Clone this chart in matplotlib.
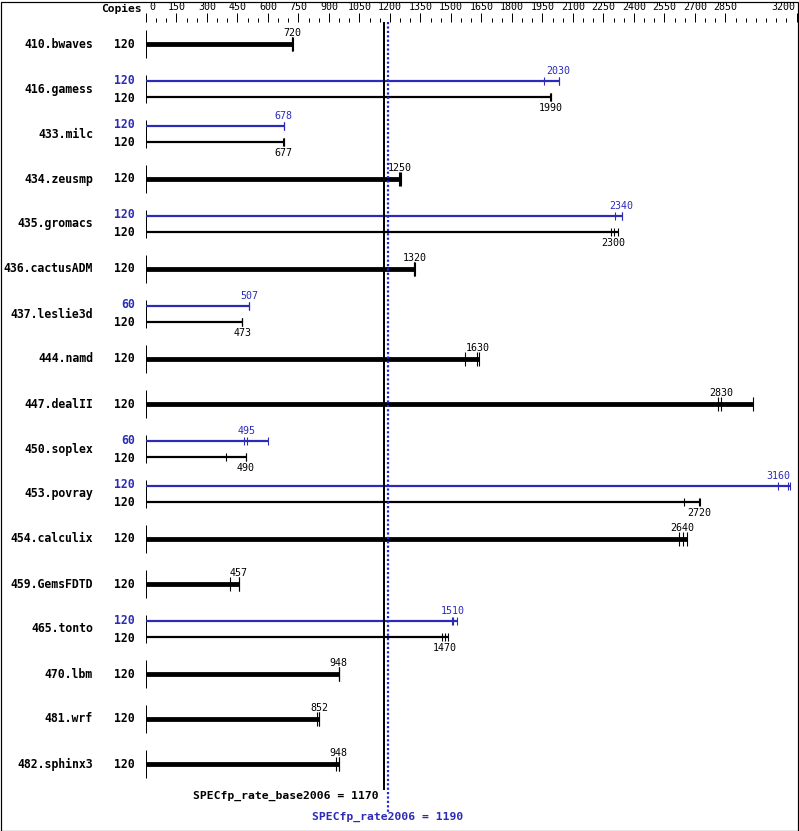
import matplotlib
matplotlib.use("Agg")
import matplotlib.pyplot as plt
from matplotlib.patches import Rectangle

benchmarks = ["410.bwaves", "416.gamess", "433.milc", "434.zeusmp", "435.gromacs",
              "436.cactusADM", "437.leslie3d", "444.namd", "447.dealII", "450.soplex",
              "453.povray", "454.calculix", "459.GemsFDTD", "465.tonto", "470.lbm",
              "481.wrf", "482.sphinx3"]
base_copies = [120] * 17
peak_copies = [None, 120, 120, None, 120, None, 60, None, None, 60, 120, None, None, 120, None, None, None]
base_runs = [[719, 720, 722], [1985, 1990, 1993], [676, 677, 678], [1246, 1250, 1255],
             [2285, 2300, 2322], [1318, 1320, 1321], [473, 473, 474], [1571, 1630, 1636],
             [2815, 2830, 2986], [393, 490, 492], [2645, 2720, 2723], [2622, 2640, 2660],
             [415, 457, 458], [1455, 1470, 1485], [947, 948, 949], [840, 852, 853],
             [937, 948, 949]]
base_median = [720, 1990, 677, 1250, 2300, 1320, 473, 1630, 2830, 490, 2720, 2640, 457, 1470, 948, 852, 948]
peak_runs = [None, [1960, 2030, 2032], [677, 678, 679], None, [2305, 2340, 2343], None,
             [506, 507, 508], None, None, [483, 495, 600], [3110, 3160, 3166], None, None,
             [1505, 1510, 1530], None, None, None]
peak_median = [None, 2030, 678, None, 2340, None, 507, None, None, 495, 3160, None, None, 1510, None, None, None]
base_score = 1170
peak_score = 1190
major_ticks = list(range(0, 2851, 150)) + [3200]
minor_ticks = list(range(0, 3201, 50))

BLUE = "#2b2bb8"
W, H = 799, 831
X0, SCALE = 146.0, 0.2033

fig = plt.figure(figsize=(W / 100, H / 100), dpi=100)
ax = fig.add_axes([0, 0, 1, 1])
ax.set_xlim(-X0 / SCALE, (W - X0) / SCALE)
ax.set_ylim(H, 0)
ax.axis("off")


def px(p):
    return (p - X0) / SCALE


def lw(p):
    return p * 0.72


mono = "DejaVu Sans Mono"
LABEL_MAX = px(778)

# frame
fig.patches.append(Rectangle((0.5 / W, 0.5 / H), (W - 1.5) / W, (H - 2) / H,
                             transform=fig.transFigure, fill=False, ec="black", lw=lw(1.2)))

# top axis
ax.text(px(142), 9, "Copies", ha="right", va="center", fontsize=8.1, fontweight="bold", family=mono)
for t in minor_ticks:
    if t in major_ticks:
        ax.plot([t, t], [13, 22], color="black", lw=lw(1), solid_capstyle="butt")
    else:
        ax.plot([t, t], [18, 22], color="black", lw=lw(1), solid_capstyle="butt")
for t in major_ticks:
    if t == 0:
        ax.text(t + px(149) - px(146), 7, "0", ha="left", va="center", fontsize=7.2, family=mono)
    elif t == 3200:
        ax.text(px(795), 7, str(t), ha="right", va="center", fontsize=7.2, family=mono)
    else:
        ax.text(t, 7, str(t), ha="center", va="center", fontsize=7.2, family=mono)

# reference lines
ax.plot([base_score, base_score], [22, 790], color="black", lw=lw(2), solid_capstyle="butt",
        zorder=3, antialiased=False)
ax.plot([peak_score, peak_score], [22, 812], color="#2424e0", lw=lw(2.2), linestyle=(0, (1, 1)),
        dash_capstyle="butt", zorder=3)
ax.text(px(379), 796, "SPECfp_rate_base2006 = %d" % base_score, ha="right", va="center",
        fontsize=8.2, fontweight="bold", family=mono)
ax.text(peak_score, 817, "SPECfp_rate2006 = %d" % peak_score, ha="center", va="center",
        fontsize=8.2, fontweight="bold", family=mono, color=BLUE)


def draw_bar(y, runs, median, color, width_px, tick_half, label_dy):
    mx = max(runs)
    ax.plot([0, mx], [y, y], color=color, lw=lw(width_px), solid_capstyle="butt", zorder=2)
    for r in runs:
        ax.plot([r, r], [y - tick_half, y + tick_half], color=color, lw=lw(1.1),
                solid_capstyle="butt", zorder=2)
    ax.text(min(median, LABEL_MAX), y + label_dy, str(median), ha="center", va="center",
            fontsize=7.2, family=mono, color=color)


for i, name in enumerate(benchmarks):
    c = 44 + 45 * i
    ax.text(px(93), c, name, ha="right", va="center", fontsize=8.3, fontweight="bold", family=mono)
    ax.plot([0, 0], [c - 14, c + 14], color="black", lw=lw(1), solid_capstyle="butt")
    if peak_runs[i] is None:
        ax.text(px(135), c, str(base_copies[i]), ha="right", va="center", fontsize=8.3,
                fontweight="bold", family=mono)
        draw_bar(c, base_runs[i], base_median[i], "black", 4.8, 7, -11)
    else:
        yp, yb = c - 8, c + 8
        ax.text(px(135), yp - 1, str(peak_copies[i]), ha="right", va="center", fontsize=8.3,
                fontweight="bold", family=mono, color=BLUE)
        ax.text(px(135), yb + 1, str(base_copies[i]), ha="right", va="center", fontsize=8.3,
                fontweight="bold", family=mono)
        draw_bar(yp, peak_runs[i], peak_median[i], BLUE, 2.2, 4, -10)
        draw_bar(yb, base_runs[i], base_median[i], "black", 2.2, 4, 11)

fig.savefig("out.png", dpi=100)
